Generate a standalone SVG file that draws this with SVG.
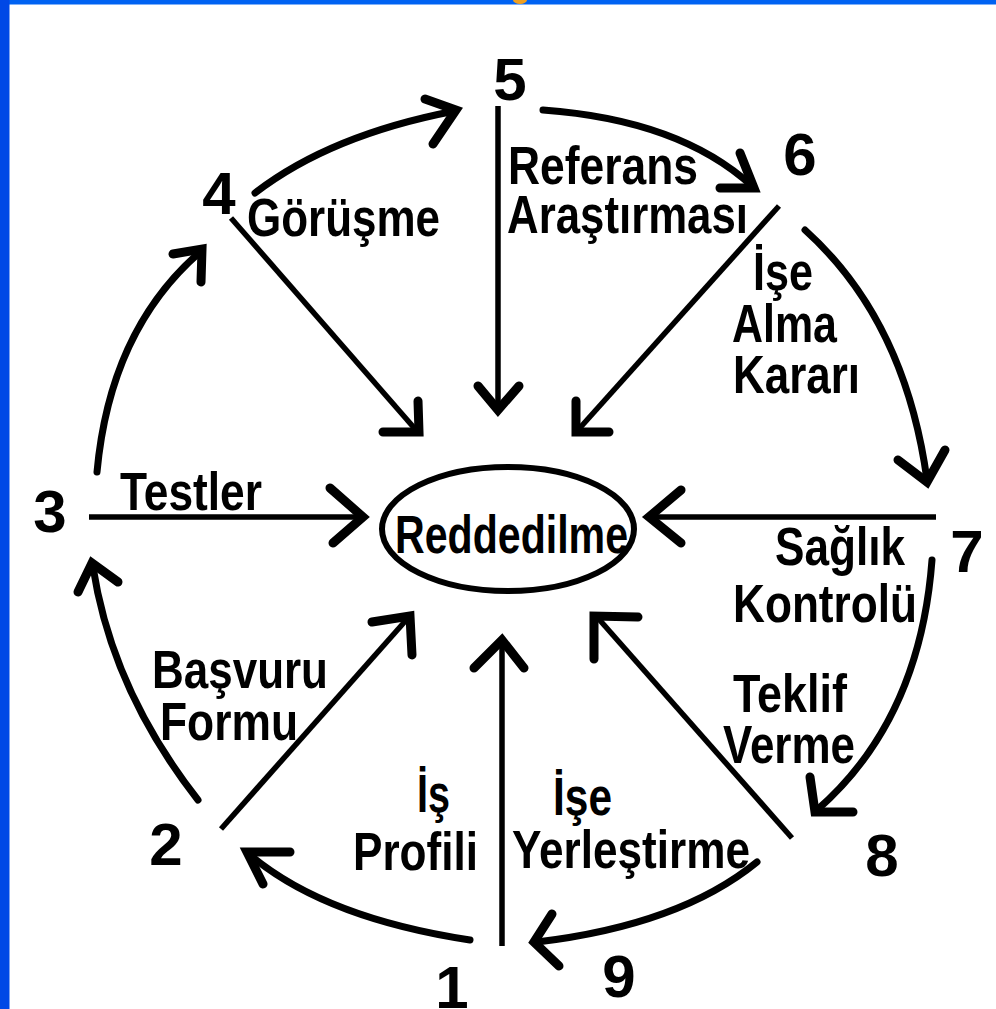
<svg xmlns="http://www.w3.org/2000/svg" width="996" height="1009" viewBox="0 0 996 1009">
<style>
.lbl{font-family:"Liberation Sans",Arial,sans-serif;font-weight:bold;font-size:54px;fill:#000}
.num{font-family:"Liberation Sans",Arial,sans-serif;font-weight:bold;font-size:60px;fill:#000;text-anchor:middle}
.arc{fill:none;stroke:#000;stroke-width:7;stroke-linecap:round}
.ray{fill:none;stroke:#000;stroke-width:5.5;stroke-linecap:butt}
.head{fill:none;stroke:#000;stroke-width:9;stroke-linecap:round;stroke-linejoin:miter}
</style>
<rect x="0" y="0" width="996" height="1009" fill="#fff"/>
<g id="frame">
<rect x="0" y="0" width="996" height="4.5" fill="#0062f2"/>
<rect x="0" y="0" width="9.5" height="1009" fill="#0048e6"/>
<ellipse cx="520" cy="0" rx="7" ry="4" fill="#f0a020"/>
</g>
<g id="connectors">
<path class="arc" d="M470,940 Q325,918 250,855"/>
<polyline class="head" points="290,852 247,852 263,884"/>
<path class="arc" d="M198,800 Q112,690 93,567"/>
<polyline class="head" points="78,592 92,563 118,582"/>
<path class="arc" d="M97,472 Q110,330 200,252"/>
<polyline class="head" points="173,254 202,249 201,282"/>
<path class="arc" d="M255,193 Q330,135 455,111"/>
<polyline class="head" points="425,99 456,110 433,144"/>
<path class="arc" d="M543,110 Q680,120 752,186"/>
<polyline class="head" points="740,153 754,188 720,188"/>
<path class="arc" d="M805,230 Q905,320 927,480"/>
<polyline class="head" points="898,460 927,482 945,450"/>
<path class="arc" d="M932,560 Q920,720 817,810"/>
<polyline class="head" points="810,777 815,812 853,812"/>
<path class="arc" d="M757,862 Q680,925 537,942"/>
<polyline class="head" points="552,914 534,942 559,966"/>
<path class="ray" d="M502,946 L502,642"/>
<polyline class="head" points="474,668 502,640 524,668"/>
<path class="ray" d="M221,829 L408,618"/>
<polyline class="head" points="372,622 410,616 412,655"/>
<path class="ray" d="M89,517 L362,517"/>
<polyline class="head" points="330,488 363,517 333,543"/>
<path class="ray" d="M231,218 L416,430"/>
<polyline class="head" points="418,401 419,432 383,432"/>
<path class="ray" d="M498,106 L498,408"/>
<polyline class="head" points="478,386 498,410 519,386"/>
<path class="ray" d="M779,206 L578,430"/>
<polyline class="head" points="576,401 576,432 609,432"/>
<path class="ray" d="M936,517 L651,517"/>
<polyline class="head" points="681,490 649,517 681,543"/>
<path class="ray" d="M792,838 L597,617"/>
<polyline class="head" points="638,617 594,616 594,659"/>
</g>
<g id="center">
<ellipse cx="508" cy="529" rx="126" ry="62" fill="none" stroke="#000" stroke-width="6"/>
<text class="lbl" x="395" y="553" font-size="50" textLength="233" lengthAdjust="spacingAndGlyphs">Reddedilme</text>
</g>
<g id="n1"><text class="num" x="452" y="1008">1</text></g>
<g id="n2"><text class="num" x="166" y="865">2</text></g>
<g id="n3"><text class="num" x="50" y="532">3</text></g>
<g id="n4"><text class="num" x="219" y="214">4</text></g>
<g id="n5"><text class="num" x="510" y="100">5</text></g>
<g id="n6"><text class="num" x="800" y="175">6</text></g>
<g id="n7"><text class="num" x="967" y="572">7</text></g>
<g id="n8"><text class="num" x="882" y="876">8</text></g>
<g id="n9"><text class="num" x="619" y="997" font-family="Liberation Serif,serif">9</text></g>
<g id="labels">
<text class="lbl" x="247" y="236" textLength="193" lengthAdjust="spacingAndGlyphs">Görüşme</text>
<text class="lbl" x="508" y="184" textLength="190" lengthAdjust="spacingAndGlyphs">Referans</text>
<text class="lbl" x="507" y="233" textLength="241" lengthAdjust="spacingAndGlyphs">Araştırması</text>
<text class="lbl" x="753" y="290" textLength="60" lengthAdjust="spacingAndGlyphs">İşe</text>
<text class="lbl" x="732" y="342" textLength="105" lengthAdjust="spacingAndGlyphs">Alma</text>
<text class="lbl" x="733" y="393" textLength="127" lengthAdjust="spacingAndGlyphs">Kararı</text>
<text class="lbl" x="120" y="510" textLength="142" lengthAdjust="spacingAndGlyphs">Testler</text>
<text class="lbl" x="775" y="565" textLength="130" lengthAdjust="spacingAndGlyphs">Sağlık</text>
<text class="lbl" x="733" y="622" textLength="184" lengthAdjust="spacingAndGlyphs">Kontrolü</text>
<text class="lbl" x="733" y="712" textLength="114" lengthAdjust="spacingAndGlyphs">Teklif</text>
<text class="lbl" x="723" y="763" textLength="132" lengthAdjust="spacingAndGlyphs">Verme</text>
<text class="lbl" x="152" y="688" textLength="176" lengthAdjust="spacingAndGlyphs">Başvuru</text>
<text class="lbl" x="160" y="740" textLength="138" lengthAdjust="spacingAndGlyphs">Formu</text>
<text class="lbl" x="417" y="812" textLength="33" lengthAdjust="spacingAndGlyphs">İş</text>
<text class="lbl" x="353" y="870" textLength="125" lengthAdjust="spacingAndGlyphs">Profili</text>
<text class="lbl" x="553" y="815" textLength="59" lengthAdjust="spacingAndGlyphs">İşe</text>
<text class="lbl" x="512" y="868" textLength="238" lengthAdjust="spacingAndGlyphs">Yerleştirme</text>
</g>
</svg>
